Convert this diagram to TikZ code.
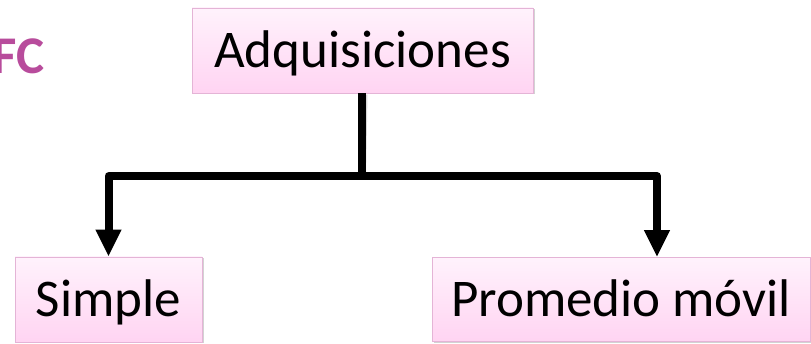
\documentclass[tikz,border=0pt]{standalone}
\usepackage{fontspec}
\setmainfont{Carlito}
\usetikzlibrary{arrows.meta,shadows}
\definecolor{fcpink}{RGB}{184,76,156}
\definecolor{boxtop}{RGB}{255,242,252}
\definecolor{boxbot}{RGB}{255,212,242}
\definecolor{boxline}{RGB}{228,180,214}
\tikzset{
  box/.style={rectangle, draw=boxline, line width=0.8pt, top color=boxtop, bottom color=boxbot,
    font=\fontsize{53}{60}\selectfont, text height=35pt, text depth=0pt, inner sep=0pt,
    drop shadow={shadow xshift=1.5pt, shadow yshift=-1.5pt, opacity=0.35}},
  conn/.style={line width=8pt, line join=round, black},
  connshadow/.style={line width=8pt, line join=round, black!30, opacity=0.5},
  tip/.style={-{Triangle[width=24pt,length=27pt]}}
}
\begin{document}
\begin{tikzpicture}[x=1pt,y=-1pt]
\useasboundingbox (0,0) rectangle (811,344);
\node[anchor=base east, inner sep=0pt, text=fcpink, font=\bfseries\fontsize{53}{60}\selectfont] (fc) at (45,74) {FC};
\node[box, minimum width=341pt, minimum height=85pt] (adq) at (362.5,50.5) {Adquisiciones};
\node[box, minimum width=187pt, minimum height=85pt] (simple) at (108.5,299.5) {Simple};
\node[box, minimum width=378pt, minimum height=84pt] (prom) at (621,299.5) {Promedio móvil};
\coordinate (j) at (362,176);
\coordinate (jl) at (108.5,176);
\coordinate (jr) at (657,176);
% shadows of connectors
\begin{scope}[shift={(1.5,1.5)}]
\draw[connshadow] (362,93) -- (j);
\draw[connshadow] (jl) -- (jr);
\end{scope}
\draw[conn] (adq.south -| j) -- (j);
\draw[conn, tip] (j) -- (jl) -- (simple.north);
\draw[conn, tip] (j) -- (jr) -- (jr |- prom.north);
\end{tikzpicture}
\end{document}
